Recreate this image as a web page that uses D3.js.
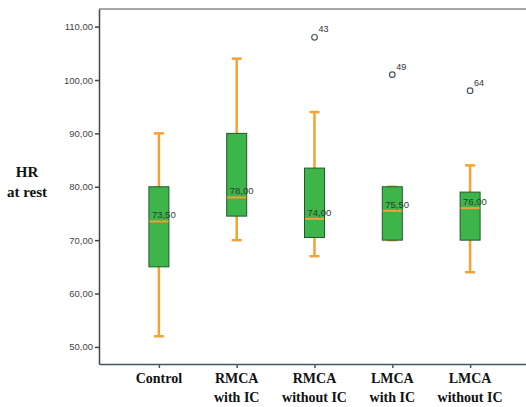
<!DOCTYPE html>
<html>
<head>
<meta charset="utf-8">
<script src="https://cdn.jsdelivr.net/npm/d3@7"></script>
<style>
  html, body { margin: 0; background: #fff; overflow: hidden; }
  svg { display: block; }
</style>
</head>
<body>
<div id="root"></div>
<script>
// Data
const groups = ["Control", "RMCA\nwith IC", "RMCA\nwithout IC", "LMCA\nwith IC", "LMCA\nwithout IC"];
const whiskerLow = [52, 70, 67, 70, 64];
const q1 = [65, 74.5, 70.5, 70, 70];
const median = [73.5, 78, 74, 75.5, 76];
const q3 = [80, 90, 83.5, 80, 79];
const whiskerHigh = [90, 104, 94, 80, 84];
const outliers = [
  { group: 2, value: 108, label: "43" },
  { group: 3, value: 101, label: "49" },
  { group: 4, value: 98, label: "64" }
];
const yTicks = [50, 60, 70, 80, 90, 100, 110];

const W = 526, H = 407;
// plot frame edges (right edge lies just outside the picture)
const plot = { left: 99, right: 530, top: 9, bottom: 364 };

const svg = d3.select("#root")
  .append("svg")
  .attr("width", W)
  .attr("height", H);

const x = d3.scalePoint()
  .domain(groups)
  .range([plot.left, plot.right])
  .padding(0.77);

const y = d3.scaleLinear()
  .domain([46.8, 113.3])
  .range([plot.bottom, plot.top]);

const comma = d => d.toFixed(2).replace(".", ",");

// top frame line
svg.append("path")
  .attr("d", `M${plot.left},${plot.top}H${plot.right + 5}`)
  .attr("fill", "none")
  .attr("stroke", "#8a8a8a")
  .attr("stroke-width", 1.5);

// Y axis
const yAxis = svg.append("g")
  .attr("transform", `translate(${plot.left},0)`)
  .call(d3.axisLeft(y).tickValues(yTicks).tickFormat(comma).tickSize(4).tickSizeOuter(0));
yAxis.select(".domain").attr("stroke", "#444").attr("stroke-width", 1.5);
yAxis.selectAll(".tick line").attr("stroke", "#444").attr("stroke-width", 1.5);
yAxis.selectAll(".tick text")
  .attr("x", -6)
  .attr("fill", "#444")
  .style("font-family", "Liberation Sans, Arial, sans-serif")
  .style("font-size", "9.5px");

// X axis
const xAxis = svg.append("g")
  .attr("transform", `translate(0,${plot.bottom})`)
  .call(d3.axisBottom(x).tickFormat("").tickSize(4).tickSizeOuter(0));
xAxis.select(".domain").attr("stroke", "#3d5a66").attr("stroke-width", 1.5);
xAxis.selectAll(".tick line").attr("stroke", "#3d5a66").attr("stroke-width", 1.5);

// multi-line category labels
groups.forEach(g => {
  const t = svg.append("text")
    .attr("text-anchor", "middle")
    .attr("fill", "#111")
    .style("font-family", "Liberation Serif, Times New Roman, serif")
    .style("font-weight", "bold")
    .style("font-size", "14px");
  g.split("\n").forEach((line, i) => {
    t.append("tspan")
      .attr("x", x(g))
      .attr("y", plot.bottom + 19 + i * 19)
      .text(line);
  });
});

// Y title
const yt = svg.append("text")
  .attr("text-anchor", "middle")
  .attr("fill", "#111")
  .style("font-family", "Liberation Serif, Times New Roman, serif")
  .style("font-weight", "bold")
  .style("font-size", "15px");
yt.append("tspan").attr("x", 27).attr("y", 177).text("HR");
yt.append("tspan").attr("x", 27).attr("y", 197).text("at rest");

const boxW = 20, capW = 10;
const orange = "#f5a134";

const boxes = svg.selectAll("g.box")
  .data(groups)
  .enter()
  .append("g")
  .attr("class", "box");

// whiskers
boxes.append("line")
  .attr("x1", d => x(d)).attr("x2", d => x(d))
  .attr("y1", (d, i) => y(whiskerLow[i])).attr("y2", (d, i) => y(whiskerHigh[i]))
  .attr("stroke", orange).attr("stroke-width", 2.5);
boxes.append("line")
  .attr("x1", d => x(d) - capW / 2).attr("x2", d => x(d) + capW / 2)
  .attr("y1", (d, i) => y(whiskerHigh[i])).attr("y2", (d, i) => y(whiskerHigh[i]))
  .attr("stroke", orange).attr("stroke-width", 2.5);
boxes.append("line")
  .attr("x1", d => x(d) - capW / 2).attr("x2", d => x(d) + capW / 2)
  .attr("y1", (d, i) => y(whiskerLow[i])).attr("y2", (d, i) => y(whiskerLow[i]))
  .attr("stroke", orange).attr("stroke-width", 2.5);

// box
boxes.append("rect")
  .attr("x", d => x(d) - boxW / 2)
  .attr("width", boxW)
  .attr("y", (d, i) => y(q3[i]))
  .attr("height", (d, i) => y(q1[i]) - y(q3[i]))
  .attr("fill", "#3db54a")
  .attr("stroke", "#1f5a2c")
  .attr("stroke-width", 1);

// median
boxes.append("line")
  .attr("x1", d => x(d) - boxW / 2 + 0.5).attr("x2", d => x(d) + boxW / 2 - 0.5)
  .attr("y1", (d, i) => y(median[i])).attr("y2", (d, i) => y(median[i]))
  .attr("stroke", orange).attr("stroke-width", 2);

boxes.append("text")
  .attr("x", d => x(d) - 7)
  .attr("y", (d, i) => y(median[i]) - 3)
  .attr("fill", "#2f3a30")
  .style("font-family", "Liberation Sans, Arial, sans-serif")
  .style("font-size", "9.5px")
  .text((d, i) => comma(median[i]));

// outliers
const outl = svg.selectAll("g.out")
  .data(outliers)
  .enter()
  .append("g")
  .attr("class", "out");
outl.append("circle")
  .attr("cx", d => x(groups[d.group]))
  .attr("cy", d => y(d.value))
  .attr("r", 2.8)
  .attr("fill", "none")
  .attr("stroke", "#4a5560")
  .attr("stroke-width", 1.2);
outl.append("text")
  .attr("x", d => x(groups[d.group]) + 4)
  .attr("y", d => y(d.value) - 5)
  .attr("fill", "#333")
  .style("font-family", "Liberation Sans, Arial, sans-serif")
  .style("font-size", "9px")
  .text(d => d.label);
</script>
</body>
</html>
